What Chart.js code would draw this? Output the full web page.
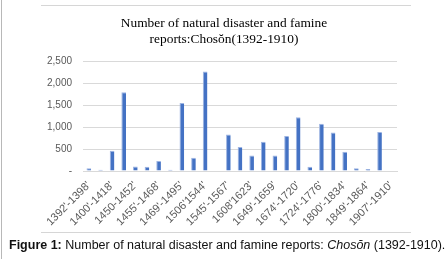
<!DOCTYPE html>
<html>
<head>
<meta charset="utf-8">
<script src="https://cdn.jsdelivr.net/npm/chart.js@4/dist/chart.umd.min.js"></script>
<style>
  html, body { margin: 0; padding: 0; background: #fff; }
  #wrap { position: relative; width: 448px; height: 259px; overflow: hidden; }
  #c { position: absolute; left: 0; top: 0; }
  #caption { position: absolute; left: 9px; top: 238px; font-family: "Liberation Sans", Arial, sans-serif; font-size: 12.5px; color: #111; white-space: nowrap; }
  .vline { position: absolute; left: 1px; top: 0; width: 1px; height: 259px; background: #b8b8b8; }
  .hline { position: absolute; left: 41px; width: 370px; height: 1px; background: #d6d6d6; }
</style>
</head>
<body>
<div id="wrap">
  <canvas id="c" width="448" height="259"></canvas>
  <div class="vline"></div>
  <div class="hline" style="top:5px"></div>
  <div class="hline" style="top:232px"></div>
  <div id="caption"><b>Figure 1:</b> Number of natural disaster and famine reports: <i>Chosŏn</i> (1392-1910).</div>
</div>
<script>
const chartTitle = ["Number of natural disaster and famine", "reports:Chosŏn(1392-1910)"];
const categories = [
  "1392'-1398'", "", "1400'-1418'", "", "1450-1452'", "", "1455'-1468'", "",
  "1469'-1495'", "", "1506'1544'", "", "1545'-1567'", "", "1608'1623'", "",
  "1649'-1659'", "", "1674'-1720'", "", "1724'-1776'", "", "1800'-1834'", "",
  "1849'-1864'", "", "1907'-1910'"
];
const reports = [
  60, 30, 460, 1790, 100, 95, 225, 30, 1545, 300, 2265, 0, 830, 545,
  350, 665, 350, 795, 1225, 95, 1075, 875, 440, 60, 45, 890, 0
];
const yTicks = { min: 0, max: 2500, step: 500 };

new Chart(document.getElementById('c'), {
  type: 'bar',
  data: {
    labels: categories,
    datasets: [{
      data: reports,
      backgroundColor: '#4472C4',
      borderColor: '#9DB4E2',
      borderWidth: { left: 1, right: 0, top: 1, bottom: 0 },
      borderSkipped: false,
      barPercentage: 0.4,
      categoryPercentage: 1.0
    }]
  },
  options: {
    responsive: false,
    animation: false,
    layout: { padding: 0 },
    plugins: {
      legend: { display: false },
      tooltip: { enabled: false },
      title: {
        display: true,
        text: chartTitle,
        color: '#000',
        font: { family: '"Liberation Serif", "Times New Roman", serif', size: 13.4, weight: 'normal', lineHeight: 1.2 },
        padding: { top: 15, bottom: 14 }
      }
    },
    scales: {
      x: {
        grid: { display: false, drawTicks: false },
        border: { display: true, color: '#d9d9d9', width: 1 },
        ticks: {
          autoSkip: false,
          minRotation: 45,
          maxRotation: 45,
          padding: 8,
          color: '#595959',
          font: { family: '"Liberation Sans", Arial, sans-serif', size: 11 }
        },
        afterFit: (s) => { s.height = 88; }
      },
      y: {
        min: yTicks.min,
        max: yTicks.max,
        grid: { color: '#d9d9d9', drawTicks: false },
        border: { display: false },
        ticks: {
          stepSize: yTicks.step,
          padding: 11,
          color: '#595959',
          font: { family: '"Liberation Sans", Arial, sans-serif', size: 10 },
          callback: (v) => v === 0 ? '-' : v.toLocaleString('en-US')
        },
        afterFit: (s) => { s.width = 83; }
      },
      yRight: {
        position: 'right',
        display: true,
        grid: { display: false, drawTicks: false },
        border: { display: false },
        ticks: { display: false },
        afterFit: (s) => { s.width = 51; }
      }
    }
  }
});
</script>
</body>
</html>
